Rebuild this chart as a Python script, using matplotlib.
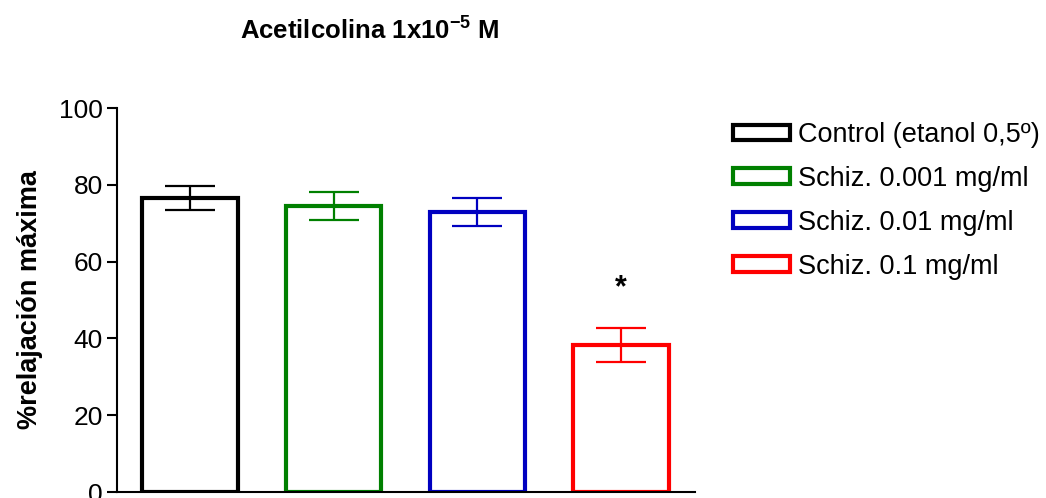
import matplotlib
matplotlib.use("Agg")
import matplotlib.pyplot as plt
from matplotlib.patches import Patch

plt.rcParams['font.family'] = ['Liberation Sans', 'DejaVu Sans']
plt.rcParams['mathtext.fontset'] = 'custom'
plt.rcParams['mathtext.rm'] = 'Liberation Sans:bold'
plt.rcParams['mathtext.bf'] = 'Liberation Sans:bold'
plt.rcParams['mathtext.default'] = 'bf'

# Relaxation data (mean ± SEM)
groups = ["Control (etanol 0,5º)", "Schiz. 0.001 mg/ml",
          "Schiz. 0.01 mg/ml", "Schiz. 0.1 mg/ml"]
means = [76.6, 74.5, 72.9, 38.3]
sems = [3.1, 3.7, 3.6, 4.4]
colors = ["#000000", "#008000", "#0000c0", "#ff0000"]
significant = [False, False, False, True]
yticks = [0, 20, 40, 60, 80, 100]

fig = plt.figure(figsize=(10.46, 4.98), dpi=100)
ax = fig.add_axes([117 / 1046, 6 / 498, 578 / 1046, 384 / 498])

x = list(range(len(groups)))
for xi, m, s, c, sig in zip(x, means, sems, colors, significant):
    ax.bar(xi, m, width=0.665, facecolor="white", edgecolor=c,
           linewidth=3, zorder=2)
    ax.errorbar(xi, m, yerr=s, fmt="none", ecolor=c, elinewidth=1.6,
                capsize=18, capthick=1.6, zorder=3)
    if sig:
        ax.text(xi, m + s + 10.3, "*", ha="center", va="center",
                fontsize=22, fontweight="bold")

ax.set_xlim(-0.507, 3.514)
ax.set_ylim(0, 100)
ax.set_yticks(yticks)
ax.set_xticks([])
ax.tick_params(axis="y", direction="out", length=7, width=1.5,
               labelsize=19, pad=3)
for side in ("top", "right"):
    ax.spines[side].set_visible(False)
for side in ("left", "bottom"):
    ax.spines[side].set_linewidth(1.5)

ax.set_ylabel("%relajación máxima", fontsize=19.5, fontweight="bold",
              labelpad=12)

fig.text(370 / 1046, 1 - 31 / 498, r"Acetilcolina 1x10$^{-5}$ M",
         ha="center", va="center", fontsize=18.5, fontweight="bold")

handles = [Patch(facecolor="white", edgecolor=c, linewidth=3) for c in colors]
fig.legend(handles, groups, loc="upper left",
           bbox_to_anchor=(733 / 1046, 1 - 122 / 498),
           frameon=False, fontsize=19.5, handlelength=2.1, handleheight=0.52,
           handletextpad=0.3, labelspacing=0.66, borderaxespad=0,
           borderpad=0)

fig.savefig("out.png", dpi=100)
